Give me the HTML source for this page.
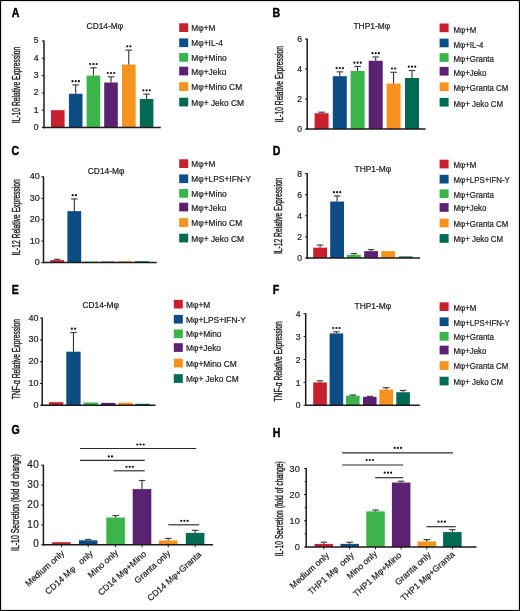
<!DOCTYPE html>
<html><head><meta charset="utf-8"><style>
html,body{margin:0;padding:0;background:#fff;}
body{width:520px;height:611px;overflow:hidden;}
svg{display:block;will-change:transform;}
text{font-family:'Liberation Sans', sans-serif;white-space:pre;stroke:#231F20;stroke-width:0.22px;}
</style></head><body>
<svg width="520" height="611" viewBox="0 0 520 611" xml:space="preserve">
<rect x="0" y="0" width="520" height="611" fill="#fff"/>
<rect x="51" y="110.2" width="13.6" height="17.3" fill="#C8202F"/>
<rect x="68.9" y="93.77" width="13.6" height="33.73" fill="#0E4C84"/>
<line x1="75.7" y1="84.94" x2="75.7" y2="93.77" stroke="#1E1A1B" stroke-width="1"/>
<line x1="72.45" y1="84.94" x2="78.95" y2="84.94" stroke="#444" stroke-width="1.2"/>
<circle cx="72.5" cy="81.14" r="1.1" fill="#111"/>
<circle cx="75.7" cy="81.14" r="1.1" fill="#111"/>
<circle cx="78.9" cy="81.14" r="1.1" fill="#111"/>
<rect x="86.6" y="75.6" width="13.6" height="51.9" fill="#3BB44A"/>
<line x1="93.4" y1="67.81" x2="93.4" y2="75.6" stroke="#1E1A1B" stroke-width="1"/>
<line x1="90.15" y1="67.81" x2="96.65" y2="67.81" stroke="#444" stroke-width="1.2"/>
<circle cx="90.2" cy="64.02" r="1.1" fill="#111"/>
<circle cx="93.4" cy="64.02" r="1.1" fill="#111"/>
<circle cx="96.6" cy="64.02" r="1.1" fill="#111"/>
<rect x="104.2" y="82.52" width="13.6" height="44.98" fill="#5B2271"/>
<line x1="111" y1="76.81" x2="111" y2="82.52" stroke="#1E1A1B" stroke-width="1"/>
<line x1="107.75" y1="76.81" x2="114.25" y2="76.81" stroke="#444" stroke-width="1.2"/>
<circle cx="107.8" cy="73.01" r="1.1" fill="#111"/>
<circle cx="111" cy="73.01" r="1.1" fill="#111"/>
<circle cx="114.2" cy="73.01" r="1.1" fill="#111"/>
<rect x="122" y="64.53" width="13.6" height="62.97" fill="#F6921E"/>
<line x1="128.8" y1="50.17" x2="128.8" y2="64.53" stroke="#1E1A1B" stroke-width="1"/>
<line x1="125.55" y1="50.17" x2="132.05" y2="50.17" stroke="#444" stroke-width="1.2"/>
<circle cx="127.2" cy="46.37" r="1.1" fill="#111"/>
<circle cx="130.4" cy="46.37" r="1.1" fill="#111"/>
<rect x="139.8" y="98.95" width="13.6" height="28.54" fill="#016A53"/>
<line x1="146.6" y1="94.11" x2="146.6" y2="98.95" stroke="#1E1A1B" stroke-width="1"/>
<line x1="143.35" y1="94.11" x2="149.85" y2="94.11" stroke="#444" stroke-width="1.2"/>
<circle cx="143.4" cy="90.31" r="1.1" fill="#111"/>
<circle cx="146.6" cy="90.31" r="1.1" fill="#111"/>
<circle cx="149.8" cy="90.31" r="1.1" fill="#111"/>
<line x1="44" y1="40.5" x2="44" y2="128.25" stroke="#1E1A1B" stroke-width="1.5"/>
<line x1="43.25" y1="127.5" x2="160.8" y2="127.5" stroke="#1E1A1B" stroke-width="1.5"/>
<line x1="41.8" y1="127.5" x2="44" y2="127.5" stroke="#1E1A1B" stroke-width="1"/>
<text transform="translate(38.6,129.9)" font-size="8.6" text-anchor="end" font-weight="normal" fill="#231F20">0</text>
<line x1="41.8" y1="110.2" x2="44" y2="110.2" stroke="#1E1A1B" stroke-width="1"/>
<text transform="translate(38.6,112.6)" font-size="8.6" text-anchor="end" font-weight="normal" fill="#231F20">1</text>
<line x1="41.8" y1="92.9" x2="44" y2="92.9" stroke="#1E1A1B" stroke-width="1"/>
<text transform="translate(38.6,95.3)" font-size="8.6" text-anchor="end" font-weight="normal" fill="#231F20">2</text>
<line x1="41.8" y1="75.6" x2="44" y2="75.6" stroke="#1E1A1B" stroke-width="1"/>
<text transform="translate(38.6,78)" font-size="8.6" text-anchor="end" font-weight="normal" fill="#231F20">3</text>
<line x1="41.8" y1="58.3" x2="44" y2="58.3" stroke="#1E1A1B" stroke-width="1"/>
<text transform="translate(38.6,60.7)" font-size="8.6" text-anchor="end" font-weight="normal" fill="#231F20">4</text>
<line x1="41.8" y1="41" x2="44" y2="41" stroke="#1E1A1B" stroke-width="1"/>
<text transform="translate(38.6,43.4)" font-size="8.6" text-anchor="end" font-weight="normal" fill="#231F20">5</text>
<text transform="translate(19.7,85) rotate(-90) scale(0.64,1)" font-size="10.5" text-anchor="middle" font-weight="normal" fill="#231F20" style="stroke-width:0.42px">IL-10 Relative Expression</text>
<text transform="translate(86.6,29.2)" font-size="8.4" text-anchor="start" font-weight="normal" fill="#231F20">CD14-Mφ</text>
<text transform="translate(11.8,16.5) scale(0.88,1)" font-size="12" text-anchor="start" font-weight="bold" fill="#000" style="stroke:#000;stroke-width:0.45px">A</text>
<rect x="179.2" y="23.3" width="9" height="8.7" fill="#C8202F"/>
<text transform="translate(191.3,31.2)" font-size="8.4" text-anchor="start" font-weight="normal" fill="#231F20">Mφ+M</text>
<rect x="179.2" y="38.4" width="9" height="8.7" fill="#0E4C84"/>
<text transform="translate(191.3,46.3)" font-size="8.4" text-anchor="start" font-weight="normal" fill="#231F20">Mφ+IL-4</text>
<rect x="179.2" y="53" width="9" height="8.7" fill="#3BB44A"/>
<text transform="translate(191.3,60.9)" font-size="8.4" text-anchor="start" font-weight="normal" fill="#231F20">Mφ+Mino</text>
<rect x="179.2" y="66.7" width="9" height="8.7" fill="#5B2271"/>
<text transform="translate(191.3,74.6)" font-size="8.4" text-anchor="start" font-weight="normal" fill="#231F20">Mφ+Jeko</text>
<rect x="179.2" y="82.2" width="9" height="8.7" fill="#F6921E"/>
<text transform="translate(191.3,90.1)" font-size="8.4" text-anchor="start" font-weight="normal" fill="#231F20">Mφ+Mino CM</text>
<rect x="179.2" y="97.7" width="9" height="8.7" fill="#016A53"/>
<text transform="translate(191.3,105.6)" font-size="8.4" text-anchor="start" font-weight="normal" fill="#231F20">Mφ+ Jeko CM</text>
<rect x="314.6" y="113.25" width="14" height="15.75" fill="#C8202F"/>
<line x1="321.6" y1="112.2" x2="321.6" y2="113.25" stroke="#1E1A1B" stroke-width="1"/>
<line x1="318.35" y1="112.2" x2="324.85" y2="112.2" stroke="#444" stroke-width="1.2"/>
<rect x="332.8" y="76.2" width="14" height="52.8" fill="#0E4C84"/>
<line x1="339.8" y1="71.85" x2="339.8" y2="76.2" stroke="#1E1A1B" stroke-width="1"/>
<line x1="336.55" y1="71.85" x2="343.05" y2="71.85" stroke="#444" stroke-width="1.2"/>
<circle cx="336.6" cy="68.05" r="1.1" fill="#111"/>
<circle cx="339.8" cy="68.05" r="1.1" fill="#111"/>
<circle cx="343" cy="68.05" r="1.1" fill="#111"/>
<rect x="350.6" y="70.95" width="14" height="58.05" fill="#3BB44A"/>
<line x1="357.6" y1="66.45" x2="357.6" y2="70.95" stroke="#1E1A1B" stroke-width="1"/>
<line x1="354.35" y1="66.45" x2="360.85" y2="66.45" stroke="#444" stroke-width="1.2"/>
<circle cx="354.4" cy="62.65" r="1.1" fill="#111"/>
<circle cx="357.6" cy="62.65" r="1.1" fill="#111"/>
<circle cx="360.8" cy="62.65" r="1.1" fill="#111"/>
<rect x="368.7" y="60.75" width="14" height="68.25" fill="#5B2271"/>
<line x1="375.7" y1="57" x2="375.7" y2="60.75" stroke="#1E1A1B" stroke-width="1"/>
<line x1="372.45" y1="57" x2="378.95" y2="57" stroke="#444" stroke-width="1.2"/>
<circle cx="372.5" cy="53.2" r="1.1" fill="#111"/>
<circle cx="375.7" cy="53.2" r="1.1" fill="#111"/>
<circle cx="378.9" cy="53.2" r="1.1" fill="#111"/>
<rect x="386.6" y="83.55" width="14" height="45.45" fill="#F6921E"/>
<line x1="393.6" y1="72.3" x2="393.6" y2="83.55" stroke="#1E1A1B" stroke-width="1"/>
<line x1="390.35" y1="72.3" x2="396.85" y2="72.3" stroke="#444" stroke-width="1.2"/>
<circle cx="392" cy="68.5" r="1.1" fill="#111"/>
<circle cx="395.2" cy="68.5" r="1.1" fill="#111"/>
<rect x="405" y="78" width="14" height="51" fill="#016A53"/>
<line x1="412" y1="70.5" x2="412" y2="78" stroke="#1E1A1B" stroke-width="1"/>
<line x1="408.75" y1="70.5" x2="415.25" y2="70.5" stroke="#444" stroke-width="1.2"/>
<circle cx="408.8" cy="66.7" r="1.1" fill="#111"/>
<circle cx="412" cy="66.7" r="1.1" fill="#111"/>
<circle cx="415.2" cy="66.7" r="1.1" fill="#111"/>
<line x1="307.2" y1="38.5" x2="307.2" y2="129.75" stroke="#1E1A1B" stroke-width="1.5"/>
<line x1="306.45" y1="129" x2="425.6" y2="129" stroke="#1E1A1B" stroke-width="1.5"/>
<line x1="305" y1="129" x2="307.2" y2="129" stroke="#1E1A1B" stroke-width="1"/>
<text transform="translate(302,132.1)" font-size="8.6" text-anchor="end" font-weight="normal" fill="#231F20">0</text>
<line x1="305" y1="99" x2="307.2" y2="99" stroke="#1E1A1B" stroke-width="1"/>
<text transform="translate(302,102.1)" font-size="8.6" text-anchor="end" font-weight="normal" fill="#231F20">2</text>
<line x1="305" y1="69" x2="307.2" y2="69" stroke="#1E1A1B" stroke-width="1"/>
<text transform="translate(302,72.1)" font-size="8.6" text-anchor="end" font-weight="normal" fill="#231F20">4</text>
<line x1="305" y1="39" x2="307.2" y2="39" stroke="#1E1A1B" stroke-width="1"/>
<text transform="translate(302,42.1)" font-size="8.6" text-anchor="end" font-weight="normal" fill="#231F20">6</text>
<text transform="translate(282.6,84.15) rotate(-90) scale(0.64,1)" font-size="10.5" text-anchor="middle" font-weight="normal" fill="#231F20" style="stroke-width:0.42px">IL-10 Relative Expression</text>
<text transform="translate(353.5,29.2)" font-size="8.4" text-anchor="start" font-weight="normal" fill="#231F20">THP1-Mφ</text>
<text transform="translate(272.4,17.2) scale(0.88,1)" font-size="12" text-anchor="start" font-weight="bold" fill="#000" style="stroke:#000;stroke-width:0.45px">B</text>
<rect x="439.6" y="23.5" width="9" height="8.7" fill="#C8202F"/>
<text transform="translate(453.5,32.5) scale(0.94,1)" font-size="8.4" text-anchor="start" font-weight="normal" fill="#231F20">Mφ+M</text>
<rect x="439.6" y="38.6" width="9" height="8.7" fill="#0E4C84"/>
<text transform="translate(453.5,47.6) scale(0.94,1)" font-size="8.4" text-anchor="start" font-weight="normal" fill="#231F20">Mφ+IL-4</text>
<rect x="439.6" y="53.2" width="9" height="8.7" fill="#3BB44A"/>
<text transform="translate(453.5,62.2) scale(0.94,1)" font-size="8.4" text-anchor="start" font-weight="normal" fill="#231F20">Mφ+Granta</text>
<rect x="439.6" y="66.9" width="9" height="8.7" fill="#5B2271"/>
<text transform="translate(453.5,75.9) scale(0.94,1)" font-size="8.4" text-anchor="start" font-weight="normal" fill="#231F20">Mφ+Jeko</text>
<rect x="439.6" y="82.4" width="9" height="8.7" fill="#F6921E"/>
<text transform="translate(453.5,91.4) scale(0.94,1)" font-size="8.4" text-anchor="start" font-weight="normal" fill="#231F20">Mφ+Granta CM</text>
<rect x="439.6" y="97.9" width="9" height="8.7" fill="#016A53"/>
<text transform="translate(453.5,106.9) scale(0.94,1)" font-size="8.4" text-anchor="start" font-weight="normal" fill="#231F20">Mφ+ Jeko CM</text>
<rect x="50.2" y="260.15" width="13.8" height="2.35" fill="#C8202F"/>
<line x1="57.1" y1="259.29" x2="57.1" y2="260.15" stroke="#1E1A1B" stroke-width="1"/>
<line x1="53.85" y1="259.29" x2="60.35" y2="259.29" stroke="#444" stroke-width="1.2"/>
<rect x="67.4" y="211.14" width="13.8" height="51.36" fill="#0E4C84"/>
<line x1="74.3" y1="198.94" x2="74.3" y2="211.14" stroke="#1E1A1B" stroke-width="1"/>
<line x1="71.05" y1="198.94" x2="77.55" y2="198.94" stroke="#444" stroke-width="1.2"/>
<circle cx="72.7" cy="195.14" r="1.1" fill="#111"/>
<circle cx="75.9" cy="195.14" r="1.1" fill="#111"/>
<rect x="84.3" y="261.54" width="13.8" height="0.96" fill="#3BB44A"/>
<rect x="101" y="261.54" width="13.8" height="0.96" fill="#5B2271"/>
<rect x="118" y="261.22" width="13.8" height="1.28" fill="#F6921E"/>
<rect x="135" y="261.22" width="13.8" height="1.28" fill="#016A53"/>
<line x1="43.5" y1="176.4" x2="43.5" y2="263.25" stroke="#1E1A1B" stroke-width="1.5"/>
<line x1="42.75" y1="262.5" x2="156.7" y2="262.5" stroke="#1E1A1B" stroke-width="1.5"/>
<line x1="41.3" y1="262.5" x2="43.5" y2="262.5" stroke="#1E1A1B" stroke-width="1"/>
<text transform="translate(39.8,265.04)" font-size="9.0" text-anchor="end" font-weight="normal" fill="#231F20">0</text>
<line x1="41.3" y1="241.1" x2="43.5" y2="241.1" stroke="#1E1A1B" stroke-width="1"/>
<text transform="translate(39.8,243.64)" font-size="9.0" text-anchor="end" font-weight="normal" fill="#231F20">10</text>
<line x1="41.3" y1="219.7" x2="43.5" y2="219.7" stroke="#1E1A1B" stroke-width="1"/>
<text transform="translate(39.8,222.24)" font-size="9.0" text-anchor="end" font-weight="normal" fill="#231F20">20</text>
<line x1="41.3" y1="198.3" x2="43.5" y2="198.3" stroke="#1E1A1B" stroke-width="1"/>
<text transform="translate(39.8,200.84)" font-size="9.0" text-anchor="end" font-weight="normal" fill="#231F20">30</text>
<line x1="41.3" y1="176.9" x2="43.5" y2="176.9" stroke="#1E1A1B" stroke-width="1"/>
<text transform="translate(39.8,179.44)" font-size="9.0" text-anchor="end" font-weight="normal" fill="#231F20">40</text>
<text transform="translate(19.7,217.4) rotate(-90) scale(0.64,1)" font-size="10.5" text-anchor="middle" font-weight="normal" fill="#231F20" style="stroke-width:0.42px">IL-12 Relative Expression</text>
<text transform="translate(87.8,173.8)" font-size="8.4" text-anchor="start" font-weight="normal" fill="#231F20">CD14-Mφ</text>
<text transform="translate(11.6,154.7) scale(0.88,1)" font-size="12" text-anchor="start" font-weight="bold" fill="#000" style="stroke:#000;stroke-width:0.45px">C</text>
<rect x="179.2" y="159.3" width="9" height="8.7" fill="#C8202F"/>
<text transform="translate(191.3,167.2)" font-size="8.4" text-anchor="start" font-weight="normal" fill="#231F20">Mφ+M</text>
<rect x="179.2" y="174.4" width="9" height="8.7" fill="#0E4C84"/>
<text transform="translate(191.3,182.3)" font-size="8.4" text-anchor="start" font-weight="normal" fill="#231F20">Mφ+LPS+IFN-Y</text>
<rect x="179.2" y="189" width="9" height="8.7" fill="#3BB44A"/>
<text transform="translate(191.3,196.9)" font-size="8.4" text-anchor="start" font-weight="normal" fill="#231F20">Mφ+Mino</text>
<rect x="179.2" y="202.7" width="9" height="8.7" fill="#5B2271"/>
<text transform="translate(191.3,210.6)" font-size="8.4" text-anchor="start" font-weight="normal" fill="#231F20">Mφ+Jeko</text>
<rect x="179.2" y="218.2" width="9" height="8.7" fill="#F6921E"/>
<text transform="translate(191.3,226.1)" font-size="8.4" text-anchor="start" font-weight="normal" fill="#231F20">Mφ+Mino CM</text>
<rect x="179.2" y="233.7" width="9" height="8.7" fill="#016A53"/>
<text transform="translate(191.3,241.6)" font-size="8.4" text-anchor="start" font-weight="normal" fill="#231F20">Mφ+ Jeko CM</text>
<rect x="313.2" y="247.66" width="13.8" height="10.34" fill="#C8202F"/>
<line x1="320.1" y1="245.02" x2="320.1" y2="247.66" stroke="#1E1A1B" stroke-width="1"/>
<line x1="316.85" y1="245.02" x2="323.35" y2="245.02" stroke="#444" stroke-width="1.2"/>
<rect x="330.2" y="201.56" width="13.8" height="56.44" fill="#0E4C84"/>
<line x1="337.1" y1="195.97" x2="337.1" y2="201.56" stroke="#1E1A1B" stroke-width="1"/>
<line x1="333.85" y1="195.97" x2="340.35" y2="195.97" stroke="#444" stroke-width="1.2"/>
<circle cx="333.9" cy="192.17" r="1.1" fill="#111"/>
<circle cx="337.1" cy="192.17" r="1.1" fill="#111"/>
<circle cx="340.3" cy="192.17" r="1.1" fill="#111"/>
<rect x="347" y="254.84" width="13.8" height="3.17" fill="#3BB44A"/>
<line x1="353.9" y1="253.57" x2="353.9" y2="254.84" stroke="#1E1A1B" stroke-width="1"/>
<line x1="350.65" y1="253.57" x2="357.15" y2="253.57" stroke="#444" stroke-width="1.2"/>
<rect x="364.2" y="251.14" width="13.8" height="6.86" fill="#5B2271"/>
<line x1="371.1" y1="249.56" x2="371.1" y2="251.14" stroke="#1E1A1B" stroke-width="1"/>
<line x1="367.85" y1="249.56" x2="374.35" y2="249.56" stroke="#444" stroke-width="1.2"/>
<rect x="381.3" y="251.14" width="13.8" height="6.86" fill="#F6921E"/>
<rect x="398.8" y="256.42" width="13.8" height="1.58" fill="#016A53"/>
<line x1="307.2" y1="173.1" x2="307.2" y2="258.75" stroke="#1E1A1B" stroke-width="1.5"/>
<line x1="306.45" y1="258" x2="420" y2="258" stroke="#1E1A1B" stroke-width="1.5"/>
<line x1="305" y1="258" x2="307.2" y2="258" stroke="#1E1A1B" stroke-width="1"/>
<text transform="translate(302,261.1)" font-size="8.6" text-anchor="end" font-weight="normal" fill="#231F20">0</text>
<line x1="305" y1="236.9" x2="307.2" y2="236.9" stroke="#1E1A1B" stroke-width="1"/>
<text transform="translate(302,240)" font-size="8.6" text-anchor="end" font-weight="normal" fill="#231F20">2</text>
<line x1="305" y1="215.8" x2="307.2" y2="215.8" stroke="#1E1A1B" stroke-width="1"/>
<text transform="translate(302,218.9)" font-size="8.6" text-anchor="end" font-weight="normal" fill="#231F20">4</text>
<line x1="305" y1="194.7" x2="307.2" y2="194.7" stroke="#1E1A1B" stroke-width="1"/>
<text transform="translate(302,197.8)" font-size="8.6" text-anchor="end" font-weight="normal" fill="#231F20">6</text>
<line x1="305" y1="173.6" x2="307.2" y2="173.6" stroke="#1E1A1B" stroke-width="1"/>
<text transform="translate(302,176.7)" font-size="8.6" text-anchor="end" font-weight="normal" fill="#231F20">8</text>
<text transform="translate(282.3,215.85) rotate(-90) scale(0.64,1)" font-size="10.5" text-anchor="middle" font-weight="normal" fill="#231F20" style="stroke-width:0.42px">IL-12 Relative Expression</text>
<text transform="translate(354.6,172.2)" font-size="8.4" text-anchor="start" font-weight="normal" fill="#231F20">THP1-Mφ</text>
<text transform="translate(272.8,154.9) scale(0.88,1)" font-size="12" text-anchor="start" font-weight="bold" fill="#000" style="stroke:#000;stroke-width:0.45px">D</text>
<rect x="439.6" y="159.7" width="9" height="8.7" fill="#C8202F"/>
<text transform="translate(453.5,167.8) scale(0.94,1)" font-size="8.4" text-anchor="start" font-weight="normal" fill="#231F20">Mφ+M</text>
<rect x="439.6" y="174.8" width="9" height="8.7" fill="#0E4C84"/>
<text transform="translate(453.5,182.9) scale(0.94,1)" font-size="8.4" text-anchor="start" font-weight="normal" fill="#231F20">Mφ+LPS+IFN-Y</text>
<rect x="439.6" y="189.4" width="9" height="8.7" fill="#3BB44A"/>
<text transform="translate(453.5,197.5) scale(0.94,1)" font-size="8.4" text-anchor="start" font-weight="normal" fill="#231F20">Mφ+Granta</text>
<rect x="439.6" y="203.1" width="9" height="8.7" fill="#5B2271"/>
<text transform="translate(453.5,211.2) scale(0.94,1)" font-size="8.4" text-anchor="start" font-weight="normal" fill="#231F20">Mφ+Jeko</text>
<rect x="439.6" y="218.6" width="9" height="8.7" fill="#F6921E"/>
<text transform="translate(453.5,226.7) scale(0.94,1)" font-size="8.4" text-anchor="start" font-weight="normal" fill="#231F20">Mφ+Granta CM</text>
<rect x="439.6" y="234.1" width="9" height="8.7" fill="#016A53"/>
<text transform="translate(453.5,242.2) scale(0.94,1)" font-size="8.4" text-anchor="start" font-weight="normal" fill="#231F20">Mφ+ Jeko CM</text>
<rect x="49" y="402.14" width="14.3" height="3.16" fill="#C8202F"/>
<rect x="66.3" y="351.67" width="14.3" height="53.63" fill="#0E4C84"/>
<line x1="73.45" y1="332.49" x2="73.45" y2="351.67" stroke="#1E1A1B" stroke-width="1"/>
<line x1="70.2" y1="332.49" x2="76.7" y2="332.49" stroke="#444" stroke-width="1.2"/>
<circle cx="71.85" cy="328.69" r="1.1" fill="#111"/>
<circle cx="75.05" cy="328.69" r="1.1" fill="#111"/>
<rect x="83.5" y="402.47" width="14.3" height="2.83" fill="#3BB44A"/>
<rect x="101.1" y="402.9" width="14.3" height="2.4" fill="#5B2271"/>
<rect x="118.4" y="402.68" width="14.3" height="2.62" fill="#F6921E"/>
<rect x="135.4" y="403.77" width="14.3" height="1.53" fill="#016A53"/>
<line x1="42.2" y1="317.6" x2="42.2" y2="406.05" stroke="#1E1A1B" stroke-width="1.5"/>
<line x1="41.45" y1="405.3" x2="155.6" y2="405.3" stroke="#1E1A1B" stroke-width="1.5"/>
<line x1="40" y1="405.3" x2="42.2" y2="405.3" stroke="#1E1A1B" stroke-width="1"/>
<text transform="translate(38.6,407.84)" font-size="9.0" text-anchor="end" font-weight="normal" fill="#231F20">0</text>
<line x1="40" y1="383.5" x2="42.2" y2="383.5" stroke="#1E1A1B" stroke-width="1"/>
<text transform="translate(38.6,386.04)" font-size="9.0" text-anchor="end" font-weight="normal" fill="#231F20">10</text>
<line x1="40" y1="361.7" x2="42.2" y2="361.7" stroke="#1E1A1B" stroke-width="1"/>
<text transform="translate(38.6,364.24)" font-size="9.0" text-anchor="end" font-weight="normal" fill="#231F20">20</text>
<line x1="40" y1="339.9" x2="42.2" y2="339.9" stroke="#1E1A1B" stroke-width="1"/>
<text transform="translate(38.6,342.44)" font-size="9.0" text-anchor="end" font-weight="normal" fill="#231F20">30</text>
<line x1="40" y1="318.1" x2="42.2" y2="318.1" stroke="#1E1A1B" stroke-width="1"/>
<text transform="translate(38.6,320.64)" font-size="9.0" text-anchor="end" font-weight="normal" fill="#231F20">40</text>
<text transform="translate(19.6,359.1) rotate(-90) scale(0.64,1)" font-size="10.5" text-anchor="middle" font-weight="normal" fill="#231F20" style="stroke-width:0.42px">TNF-α Relative Expression</text>
<text transform="translate(82.4,307.9)" font-size="8.4" text-anchor="start" font-weight="normal" fill="#231F20">CD14-Mφ</text>
<text transform="translate(11.8,293.8) scale(0.88,1)" font-size="12" text-anchor="start" font-weight="bold" fill="#000" style="stroke:#000;stroke-width:0.45px">E</text>
<rect x="173.8" y="299.8" width="9" height="8.7" fill="#C8202F"/>
<text transform="translate(186,307.7)" font-size="8.4" text-anchor="start" font-weight="normal" fill="#231F20">Mφ+M</text>
<rect x="173.8" y="314.9" width="9" height="8.7" fill="#0E4C84"/>
<text transform="translate(186,322.8)" font-size="8.4" text-anchor="start" font-weight="normal" fill="#231F20">Mφ+LPS+IFN-Y</text>
<rect x="173.8" y="329.5" width="9" height="8.7" fill="#3BB44A"/>
<text transform="translate(186,337.4)" font-size="8.4" text-anchor="start" font-weight="normal" fill="#231F20">Mφ+Mino</text>
<rect x="173.8" y="343.2" width="9" height="8.7" fill="#5B2271"/>
<text transform="translate(186,351.1)" font-size="8.4" text-anchor="start" font-weight="normal" fill="#231F20">Mφ+Jeko</text>
<rect x="173.8" y="358.7" width="9" height="8.7" fill="#F6921E"/>
<text transform="translate(186,366.6)" font-size="8.4" text-anchor="start" font-weight="normal" fill="#231F20">Mφ+Mino CM</text>
<rect x="173.8" y="374.2" width="9" height="8.7" fill="#016A53"/>
<text transform="translate(186,382.1)" font-size="8.4" text-anchor="start" font-weight="normal" fill="#231F20">Mφ+ Jeko CM</text>
<rect x="313.2" y="382.4" width="13.6" height="22.9" fill="#C8202F"/>
<line x1="320" y1="380.8" x2="320" y2="382.4" stroke="#1E1A1B" stroke-width="1"/>
<line x1="316.75" y1="380.8" x2="323.25" y2="380.8" stroke="#444" stroke-width="1.2"/>
<rect x="329.6" y="333.39" width="13.6" height="71.91" fill="#0E4C84"/>
<line x1="336.4" y1="331.79" x2="336.4" y2="333.39" stroke="#1E1A1B" stroke-width="1"/>
<line x1="333.15" y1="331.79" x2="339.65" y2="331.79" stroke="#444" stroke-width="1.2"/>
<circle cx="333.2" cy="327.99" r="1.1" fill="#111"/>
<circle cx="336.4" cy="327.99" r="1.1" fill="#111"/>
<circle cx="339.6" cy="327.99" r="1.1" fill="#111"/>
<rect x="346" y="395.68" width="13.6" height="9.62" fill="#3BB44A"/>
<line x1="352.8" y1="395" x2="352.8" y2="395.68" stroke="#1E1A1B" stroke-width="1"/>
<line x1="349.55" y1="395" x2="356.05" y2="395" stroke="#444" stroke-width="1.2"/>
<rect x="363" y="396.83" width="13.6" height="8.47" fill="#5B2271"/>
<line x1="369.8" y1="396.37" x2="369.8" y2="396.83" stroke="#1E1A1B" stroke-width="1"/>
<line x1="366.55" y1="396.37" x2="373.05" y2="396.37" stroke="#444" stroke-width="1.2"/>
<rect x="379.4" y="389.5" width="13.6" height="15.8" fill="#F6921E"/>
<line x1="386.2" y1="387.67" x2="386.2" y2="389.5" stroke="#1E1A1B" stroke-width="1"/>
<line x1="382.95" y1="387.67" x2="389.45" y2="387.67" stroke="#444" stroke-width="1.2"/>
<rect x="396.3" y="392.25" width="13.6" height="13.05" fill="#016A53"/>
<line x1="403.1" y1="390.42" x2="403.1" y2="392.25" stroke="#1E1A1B" stroke-width="1"/>
<line x1="399.85" y1="390.42" x2="406.35" y2="390.42" stroke="#444" stroke-width="1.2"/>
<line x1="305.7" y1="313.2" x2="305.7" y2="406.05" stroke="#1E1A1B" stroke-width="1.5"/>
<line x1="304.95" y1="405.3" x2="419.8" y2="405.3" stroke="#1E1A1B" stroke-width="1.5"/>
<line x1="303.5" y1="405.3" x2="305.7" y2="405.3" stroke="#1E1A1B" stroke-width="1"/>
<text transform="translate(300.6,408.4)" font-size="8.6" text-anchor="end" font-weight="normal" fill="#231F20">0</text>
<line x1="303.5" y1="382.4" x2="305.7" y2="382.4" stroke="#1E1A1B" stroke-width="1"/>
<text transform="translate(300.6,385.5)" font-size="8.6" text-anchor="end" font-weight="normal" fill="#231F20">1</text>
<line x1="303.5" y1="359.5" x2="305.7" y2="359.5" stroke="#1E1A1B" stroke-width="1"/>
<text transform="translate(300.6,362.6)" font-size="8.6" text-anchor="end" font-weight="normal" fill="#231F20">2</text>
<line x1="303.5" y1="336.6" x2="305.7" y2="336.6" stroke="#1E1A1B" stroke-width="1"/>
<text transform="translate(300.6,339.7)" font-size="8.6" text-anchor="end" font-weight="normal" fill="#231F20">3</text>
<line x1="303.5" y1="313.7" x2="305.7" y2="313.7" stroke="#1E1A1B" stroke-width="1"/>
<text transform="translate(300.6,316.8)" font-size="8.6" text-anchor="end" font-weight="normal" fill="#231F20">4</text>
<text transform="translate(281.9,361.35) rotate(-90) scale(0.64,1)" font-size="10.5" text-anchor="middle" font-weight="normal" fill="#231F20" style="stroke-width:0.42px">TNF-α Relative Expression</text>
<text transform="translate(354.6,308.5)" font-size="8.4" text-anchor="start" font-weight="normal" fill="#231F20">THP1-Mφ</text>
<text transform="translate(272.8,293.8) scale(0.88,1)" font-size="12" text-anchor="start" font-weight="bold" fill="#000" style="stroke:#000;stroke-width:0.45px">F</text>
<rect x="439.6" y="302.3" width="9" height="8.7" fill="#C8202F"/>
<text transform="translate(453.5,310.5) scale(0.94,1)" font-size="8.4" text-anchor="start" font-weight="normal" fill="#231F20">Mφ+M</text>
<rect x="439.6" y="317.4" width="9" height="8.7" fill="#0E4C84"/>
<text transform="translate(453.5,325.6) scale(0.94,1)" font-size="8.4" text-anchor="start" font-weight="normal" fill="#231F20">Mφ+LPS+IFN-Y</text>
<rect x="439.6" y="332" width="9" height="8.7" fill="#3BB44A"/>
<text transform="translate(453.5,340.2) scale(0.94,1)" font-size="8.4" text-anchor="start" font-weight="normal" fill="#231F20">Mφ+Granta</text>
<rect x="439.6" y="345.7" width="9" height="8.7" fill="#5B2271"/>
<text transform="translate(453.5,353.9) scale(0.94,1)" font-size="8.4" text-anchor="start" font-weight="normal" fill="#231F20">Mφ+Jeko</text>
<rect x="439.6" y="361.2" width="9" height="8.7" fill="#F6921E"/>
<text transform="translate(453.5,369.4) scale(0.94,1)" font-size="8.4" text-anchor="start" font-weight="normal" fill="#231F20">Mφ+Granta CM</text>
<rect x="439.6" y="376.7" width="9" height="8.7" fill="#016A53"/>
<text transform="translate(453.5,384.9) scale(0.94,1)" font-size="8.4" text-anchor="start" font-weight="normal" fill="#231F20">Mφ+ Jeko CM</text>
<rect x="52.1" y="542.21" width="18.6" height="2.59" fill="#C8202F"/>
<rect x="78.9" y="540.3" width="18.6" height="4.5" fill="#0E4C84"/>
<line x1="88.2" y1="539.49" x2="88.2" y2="540.3" stroke="#1E1A1B" stroke-width="1"/>
<line x1="84.95" y1="539.49" x2="91.45" y2="539.49" stroke="#444" stroke-width="1.2"/>
<rect x="106.3" y="517.54" width="18.6" height="27.26" fill="#3BB44A"/>
<line x1="115.6" y1="515.55" x2="115.6" y2="517.54" stroke="#1E1A1B" stroke-width="1"/>
<line x1="112.35" y1="515.55" x2="118.85" y2="515.55" stroke="#444" stroke-width="1.2"/>
<rect x="132.7" y="489.08" width="18.6" height="55.72" fill="#5B2271"/>
<line x1="142" y1="480.52" x2="142" y2="489.08" stroke="#1E1A1B" stroke-width="1"/>
<line x1="138.75" y1="480.52" x2="145.25" y2="480.52" stroke="#444" stroke-width="1.2"/>
<rect x="158.9" y="540.42" width="18.6" height="4.38" fill="#F6921E"/>
<line x1="168.2" y1="538.43" x2="168.2" y2="540.42" stroke="#1E1A1B" stroke-width="1"/>
<line x1="164.95" y1="538.43" x2="171.45" y2="538.43" stroke="#444" stroke-width="1.2"/>
<rect x="185.8" y="532.86" width="18.6" height="11.94" fill="#016A53"/>
<line x1="195.1" y1="530.37" x2="195.1" y2="532.86" stroke="#1E1A1B" stroke-width="1"/>
<line x1="191.85" y1="530.37" x2="198.35" y2="530.37" stroke="#444" stroke-width="1.2"/>
<line x1="43.4" y1="464.7" x2="43.4" y2="545.55" stroke="#1E1A1B" stroke-width="1.5"/>
<line x1="42.65" y1="544.8" x2="213.1" y2="544.8" stroke="#1E1A1B" stroke-width="1.5"/>
<line x1="41.2" y1="544.8" x2="43.4" y2="544.8" stroke="#1E1A1B" stroke-width="1"/>
<text transform="translate(39,547.4)" font-size="10.0" text-anchor="end" font-weight="normal" fill="#231F20" letter-spacing="0.3">0</text>
<line x1="41.2" y1="524.9" x2="43.4" y2="524.9" stroke="#1E1A1B" stroke-width="1"/>
<text transform="translate(39,527.5)" font-size="10.0" text-anchor="end" font-weight="normal" fill="#231F20" letter-spacing="0.3">10</text>
<line x1="41.2" y1="505" x2="43.4" y2="505" stroke="#1E1A1B" stroke-width="1"/>
<text transform="translate(39,507.6)" font-size="10.0" text-anchor="end" font-weight="normal" fill="#231F20" letter-spacing="0.3">20</text>
<line x1="41.2" y1="485.1" x2="43.4" y2="485.1" stroke="#1E1A1B" stroke-width="1"/>
<text transform="translate(39,487.7)" font-size="10.0" text-anchor="end" font-weight="normal" fill="#231F20" letter-spacing="0.3">30</text>
<line x1="41.2" y1="465.2" x2="43.4" y2="465.2" stroke="#1E1A1B" stroke-width="1"/>
<text transform="translate(39,467.8)" font-size="10.0" text-anchor="end" font-weight="normal" fill="#231F20" letter-spacing="0.3">40</text>
<line x1="61.4" y1="544.8" x2="61.4" y2="547.2" stroke="#1E1A1B" stroke-width="1"/>
<line x1="88.2" y1="544.8" x2="88.2" y2="547.2" stroke="#1E1A1B" stroke-width="1"/>
<line x1="115.6" y1="544.8" x2="115.6" y2="547.2" stroke="#1E1A1B" stroke-width="1"/>
<line x1="142" y1="544.8" x2="142" y2="547.2" stroke="#1E1A1B" stroke-width="1"/>
<line x1="168.2" y1="544.8" x2="168.2" y2="547.2" stroke="#1E1A1B" stroke-width="1"/>
<line x1="195.1" y1="544.8" x2="195.1" y2="547.2" stroke="#1E1A1B" stroke-width="1"/>
<text transform="translate(19.4,502.55) rotate(-90) scale(0.66,1)" font-size="10.5" text-anchor="middle" font-weight="normal" fill="#231F20" style="stroke-width:0.42px">IL-10 Secretion (fold of change)</text>
<text transform="translate(11.6,433.8) scale(0.88,1)" font-size="12" text-anchor="start" font-weight="bold" fill="#000" style="stroke:#000;stroke-width:0.45px">G</text>
<line x1="80" y1="448.5" x2="196.2" y2="448.5" stroke="#2B2B2B" stroke-width="1.15"/>
<circle cx="137.3" cy="444.5" r="1.1" fill="#111"/>
<circle cx="140.5" cy="444.5" r="1.1" fill="#111"/>
<circle cx="143.7" cy="444.5" r="1.1" fill="#111"/>
<line x1="80" y1="460.4" x2="144.7" y2="460.4" stroke="#2B2B2B" stroke-width="1.15"/>
<circle cx="108.8" cy="456.4" r="1.1" fill="#111"/>
<circle cx="112" cy="456.4" r="1.1" fill="#111"/>
<line x1="113.6" y1="470.8" x2="144.7" y2="470.8" stroke="#2B2B2B" stroke-width="1.15"/>
<circle cx="126.5" cy="466.8" r="1.1" fill="#111"/>
<circle cx="129.7" cy="466.8" r="1.1" fill="#111"/>
<circle cx="132.9" cy="466.8" r="1.1" fill="#111"/>
<line x1="168.3" y1="524.8" x2="199.2" y2="524.8" stroke="#2B2B2B" stroke-width="1.15"/>
<circle cx="181.2" cy="520.8" r="1.1" fill="#111"/>
<circle cx="184.4" cy="520.8" r="1.1" fill="#111"/>
<circle cx="187.6" cy="520.8" r="1.1" fill="#111"/>
<text transform="translate(65,554) rotate(-42)" font-size="8.7" text-anchor="end" font-weight="normal" fill="#231F20">Medium only</text>
<text transform="translate(93.4,554.3) rotate(-42)" font-size="8.7" text-anchor="end" font-weight="normal" fill="#231F20">CD14 Mφ   only</text>
<text transform="translate(118.7,553.5) rotate(-42)" font-size="8.7" text-anchor="end" font-weight="normal" fill="#231F20">Mino only</text>
<text transform="translate(146.8,554.8) rotate(-42)" font-size="8.7" text-anchor="end" font-weight="normal" fill="#231F20">CD14 Mφ+Mino</text>
<text transform="translate(171,554) rotate(-42)" font-size="8.7" text-anchor="end" font-weight="normal" fill="#231F20">Granta only</text>
<text transform="translate(201.9,555.3) rotate(-42)" font-size="8.7" text-anchor="end" font-weight="normal" fill="#231F20">CD14 Mφ+Granta</text>
<rect x="314.5" y="543.91" width="18.5" height="3.09" fill="#C8202F"/>
<line x1="323.75" y1="542.21" x2="323.75" y2="543.91" stroke="#1E1A1B" stroke-width="1"/>
<line x1="320.5" y1="542.21" x2="327" y2="542.21" stroke="#444" stroke-width="1.2"/>
<rect x="340.4" y="543.86" width="18.5" height="3.14" fill="#0E4C84"/>
<line x1="349.65" y1="542.28" x2="349.65" y2="543.86" stroke="#1E1A1B" stroke-width="1"/>
<line x1="346.4" y1="542.28" x2="352.9" y2="542.28" stroke="#444" stroke-width="1.2"/>
<rect x="366.3" y="511.37" width="18.5" height="35.63" fill="#3BB44A"/>
<line x1="375.55" y1="510.06" x2="375.55" y2="511.37" stroke="#1E1A1B" stroke-width="1"/>
<line x1="372.3" y1="510.06" x2="378.8" y2="510.06" stroke="#444" stroke-width="1.2"/>
<rect x="391.9" y="482.55" width="18.5" height="64.45" fill="#5B2271"/>
<line x1="401.15" y1="481.24" x2="401.15" y2="482.55" stroke="#1E1A1B" stroke-width="1"/>
<line x1="397.9" y1="481.24" x2="404.4" y2="481.24" stroke="#444" stroke-width="1.2"/>
<rect x="417.5" y="541.5" width="18.5" height="5.5" fill="#F6921E"/>
<line x1="426.75" y1="539.61" x2="426.75" y2="541.5" stroke="#1E1A1B" stroke-width="1"/>
<line x1="423.5" y1="539.61" x2="430" y2="539.61" stroke="#444" stroke-width="1.2"/>
<rect x="443.1" y="532.07" width="18.5" height="14.93" fill="#016A53"/>
<line x1="452.35" y1="529.71" x2="452.35" y2="532.07" stroke="#1E1A1B" stroke-width="1"/>
<line x1="449.1" y1="529.71" x2="455.6" y2="529.71" stroke="#444" stroke-width="1.2"/>
<line x1="306.2" y1="467.9" x2="306.2" y2="547.75" stroke="#1E1A1B" stroke-width="1.5"/>
<line x1="305.45" y1="547" x2="476.6" y2="547" stroke="#1E1A1B" stroke-width="1.5"/>
<line x1="304" y1="547" x2="306.2" y2="547" stroke="#1E1A1B" stroke-width="1"/>
<text transform="translate(299.8,550.31)" font-size="9.2" text-anchor="end" font-weight="normal" fill="#231F20">0</text>
<line x1="304" y1="520.8" x2="306.2" y2="520.8" stroke="#1E1A1B" stroke-width="1"/>
<text transform="translate(299.8,524.11)" font-size="9.2" text-anchor="end" font-weight="normal" fill="#231F20">10</text>
<line x1="304" y1="494.6" x2="306.2" y2="494.6" stroke="#1E1A1B" stroke-width="1"/>
<text transform="translate(299.8,497.91)" font-size="9.2" text-anchor="end" font-weight="normal" fill="#231F20">20</text>
<line x1="304" y1="468.4" x2="306.2" y2="468.4" stroke="#1E1A1B" stroke-width="1"/>
<text transform="translate(299.8,471.71)" font-size="9.2" text-anchor="end" font-weight="normal" fill="#231F20">30</text>
<line x1="304.6" y1="533.9" x2="306.2" y2="533.9" stroke="#1E1A1B" stroke-width="0.9"/>
<line x1="304.6" y1="507.7" x2="306.2" y2="507.7" stroke="#1E1A1B" stroke-width="0.9"/>
<line x1="304.6" y1="481.5" x2="306.2" y2="481.5" stroke="#1E1A1B" stroke-width="0.9"/>
<line x1="323.75" y1="547" x2="323.75" y2="549.4" stroke="#1E1A1B" stroke-width="1"/>
<line x1="349.65" y1="547" x2="349.65" y2="549.4" stroke="#1E1A1B" stroke-width="1"/>
<line x1="375.55" y1="547" x2="375.55" y2="549.4" stroke="#1E1A1B" stroke-width="1"/>
<line x1="401.15" y1="547" x2="401.15" y2="549.4" stroke="#1E1A1B" stroke-width="1"/>
<line x1="426.75" y1="547" x2="426.75" y2="549.4" stroke="#1E1A1B" stroke-width="1"/>
<line x1="452.35" y1="547" x2="452.35" y2="549.4" stroke="#1E1A1B" stroke-width="1"/>
<text transform="translate(282.6,508.75) rotate(-90) scale(0.68,1)" font-size="10.0" text-anchor="middle" font-weight="normal" fill="#231F20" style="stroke-width:0.42px">IL-10 Secretion (fold of change)</text>
<text transform="translate(272.8,437) scale(0.88,1)" font-size="12" text-anchor="start" font-weight="bold" fill="#000" style="stroke:#000;stroke-width:0.45px">H</text>
<line x1="342.1" y1="452.9" x2="453" y2="452.9" stroke="#2B2B2B" stroke-width="1.15"/>
<circle cx="394.7" cy="447.9" r="1.1" fill="#111"/>
<circle cx="397.9" cy="447.9" r="1.1" fill="#111"/>
<circle cx="401.1" cy="447.9" r="1.1" fill="#111"/>
<line x1="342.1" y1="465" x2="403.2" y2="465" stroke="#2B2B2B" stroke-width="1.15"/>
<circle cx="366.6" cy="460" r="1.1" fill="#111"/>
<circle cx="369.8" cy="460" r="1.1" fill="#111"/>
<circle cx="373" cy="460" r="1.1" fill="#111"/>
<line x1="375.2" y1="477.7" x2="403.2" y2="477.7" stroke="#2B2B2B" stroke-width="1.15"/>
<circle cx="384.7" cy="472.7" r="1.1" fill="#111"/>
<circle cx="387.9" cy="472.7" r="1.1" fill="#111"/>
<circle cx="391.1" cy="472.7" r="1.1" fill="#111"/>
<line x1="426.4" y1="526.7" x2="455.7" y2="526.7" stroke="#2B2B2B" stroke-width="1.15"/>
<circle cx="438.5" cy="521.7" r="1.1" fill="#111"/>
<circle cx="441.7" cy="521.7" r="1.1" fill="#111"/>
<circle cx="444.9" cy="521.7" r="1.1" fill="#111"/>
<text transform="translate(329.65,556.2) rotate(-42)" font-size="8.7" text-anchor="end" font-weight="normal" fill="#231F20">Medium only</text>
<text transform="translate(354.45,556.2) rotate(-42)" font-size="8.7" text-anchor="end" font-weight="normal" fill="#231F20">THP1 Mφ  only</text>
<text transform="translate(377.65,554.7) rotate(-42)" font-size="8.7" text-anchor="end" font-weight="normal" fill="#231F20">Mino only</text>
<text transform="translate(402.05,556.1) rotate(-42)" font-size="8.7" text-anchor="end" font-weight="normal" fill="#231F20">THP1 Mφ+Mino</text>
<text transform="translate(431.55,555.7) rotate(-42)" font-size="8.7" text-anchor="end" font-weight="normal" fill="#231F20">Granta only</text>
<text transform="translate(455.25,555.2) rotate(-42)" font-size="8.7" text-anchor="end" font-weight="normal" fill="#231F20">THP1 Mφ+Granta</text>
<rect x="0.5" y="0.5" width="519" height="610" fill="none" stroke="#000" stroke-width="1.2"/>
</svg>
</body></html>
